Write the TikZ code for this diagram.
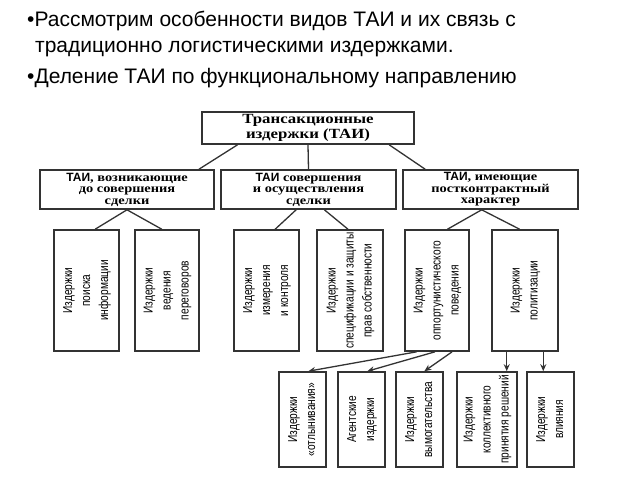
\documentclass[tikz,border=0pt]{standalone}
\usepackage{fontspec}
\setmainfont{Liberation Serif}
\setsansfont{Liberation Sans}
\newfontfamily\narrowsans[FakeStretch=0.78]{Liberation Sans}
\newfontfamily\wideserif[FakeStretch=1.2]{Liberation Serif}
\usetikzlibrary{calc,arrows.meta}

\newcommand{\vtext}[1]{\rotatebox{90}{\begin{tabular}{@{}c@{}}#1\end{tabular}}}

\begin{document}
\begin{tikzpicture}[x=1pt, y=-1pt,
    box/.style={draw=black!80, line width=1.6pt, inner sep=0pt, align=center},
    headbox/.style={box, font=\wideserif\bfseries\fontsize{14}{15}\selectfont},
    groupbox/.style={box, minimum width=175, minimum height=39,
        font=\wideserif\bfseries\fontsize{12}{11.5}\selectfont},
    itembox/.style={box, minimum height=121, font=\narrowsans\fontsize{13}{18}\selectfont},
    subbox/.style={box, minimum height=95, font=\narrowsans\fontsize{13}{18}\selectfont},
    link/.style={draw=black!80, line width=1.3pt},
    arrow/.style={link, -{Stealth[length=7pt, width=6pt]}},
    note/.style={anchor=base west, inner sep=0pt, font=\sffamily\fontsize{21}{24}\selectfont}]
    \useasboundingbox (0,0) rectangle (640,480);

    % bullets
    \node[note] (note1) at (27,26) {•Рассмотрим особенности видов ТАИ и их связь с};
    \node[note] (note2) at (35,52) {традиционно логистическими издержками.};
    \node[note] (note3) at (27,83) {•Деление ТАИ по функциональному направлению};

    % boxes
    \node[headbox, minimum width=212, minimum height=32] (tai) at (308,128)
        {Трансакционные\\издержки (ТАИ)};

    \node[groupbox, minimum width=174] (pre) at (127,189.5)
        {{\sffamily ТАИ}, возникающие\\до совершения\\сделки};
    \node[groupbox] (deal) at (308.5,189.5)
        {{\sffamily ТАИ} совершения\\и осуществления\\сделки};
    \node[groupbox] (post) at (490.5,189.5)
        {{\sffamily ТАИ}, имеющие\\постконтрактный\\характер};

    \node[itembox, minimum width=65] (search) at (86.5,290.5)
        {\vtext{Издержки\\поиска\\информации}};
    \node[itembox, minimum width=64] (talks) at (167,290.5)
        {\vtext{Издержки\\ведения\\переговоров}};
    \node[itembox, minimum width=65] (measure) at (266.5,290.5)
        {\vtext{Издержки\\измерения\\и контроля}};
    \node[itembox, minimum width=66] (rights) at (350,290.5)
        {\vtext{Издержки\\спецификации и защиты\\прав собственности}};
    \node[itembox, minimum width=64] (opport) at (437,290.5)
        {\vtext{Издержки\\оппортунистического\\поведения}};
    \node[itembox, minimum width=66] (polit) at (525,290.5)
        {\vtext{Издержки\\политизации}};

    \node[subbox, minimum width=47] (shirk) at (302.5,419.5)
        {\vtext{Издержки\\«отлынивания»}};
    \node[subbox, minimum width=47] (agent) at (361.5,419.5)
        {\vtext{Агентские\\издержки}};
    \node[subbox, minimum width=47] (extort) at (419.5,419.5)
        {\vtext{Издержки\\вымогательства}};
    \node[subbox, minimum width=60] (collect) at (487,419.5)
        {\vtext{Издержки\\коллективного\\принятия решений}};
    \node[subbox, minimum width=47] (influence) at (550.5,419.5)
        {\vtext{Издержки\\влияния}};

    % connector ends
    \coordinate (taiL) at ($(tai.south west)!0.17!(tai.south east)$);
    \coordinate (taiR) at ($(tai.south west)!0.88!(tai.south east)$);
    \coordinate (preTop) at ($(pre.north west)!0.91!(pre.north east)$);
    \coordinate (postTop) at ($(post.north west)!0.13!(post.north east)$);

    \coordinate (searchTop) at ($(search.north west)!0.63!(search.north east)$);
    \coordinate (talksTop) at ($(talks.north west)!0.42!(talks.north east)$);
    \coordinate (dealL) at ($(deal.south west)!0.43!(deal.south east)$);
    \coordinate (dealR) at ($(deal.south west)!0.59!(deal.south east)$);
    \coordinate (measureTop) at ($(measure.north west)!0.63!(measure.north east)$);
    \coordinate (rightsTop) at ($(rights.north west)!0.47!(rights.north east)$);
    \coordinate (postBot) at ($(post.south west)!0.45!(post.south east)$);
    \coordinate (opportTop) at ($(opport.north west)!0.66!(opport.north east)$);
    \coordinate (politTop) at ($(polit.north west)!0.42!(polit.north east)$);

    \coordinate (opportA) at ($(opport.south west)!0.19!(opport.south east)$);
    \coordinate (opportB) at ($(opport.south west)!0.47!(opport.south east)$);
    \coordinate (opportC) at ($(opport.south west)!0.73!(opport.south east)$);
    \coordinate (shirkTop) at ($(shirk.north west)!0.62!(shirk.north east)$);
    \coordinate (agentTop) at ($(agent.north west)!0.62!(agent.north east)$);
    \coordinate (extortTop) at ($(extort.north west)!0.6!(extort.north east)$);
    \coordinate (politA) at ($(polit.south west)!0.23!(polit.south east)$);
    \coordinate (politB) at ($(polit.south west)!0.77!(polit.south east)$);

    %Lines
    \draw[link] (taiL) -- (preTop);
    \draw[link] (tai.south) -- (deal.north);
    \draw[link] (taiR) -- (postTop);

    \draw[link] (pre.south) -- (searchTop);
    \draw[link] (pre.south) -- (talksTop);
    \draw[link] (dealL) -- (measureTop);
    \draw[link] (dealR) -- (rightsTop);
    \draw[link] (postBot) -- (opportTop);
    \draw[link] (postBot) -- (politTop);

    \draw[arrow] (opportA) -- (shirkTop);
    \draw[arrow] (opportB) -- (agentTop);
    \draw[arrow] (opportC) -- (extortTop);
    \draw[arrow] (politA) -- (politA |- collect.north);
    \draw[arrow] (politB) -- (politB |- influence.north);
\end{tikzpicture}
\end{document}
